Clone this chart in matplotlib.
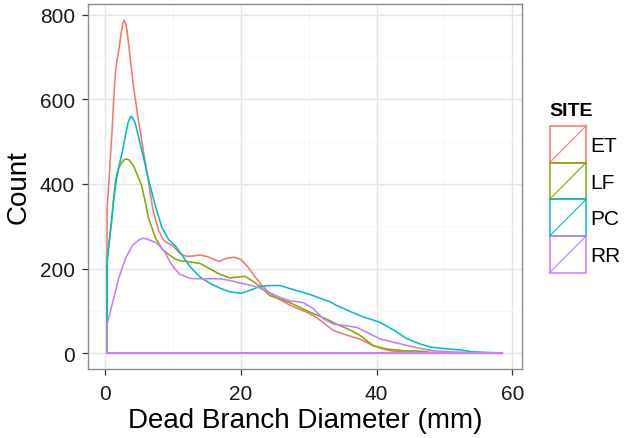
import matplotlib
matplotlib.use("Agg")
import matplotlib.pyplot as plt
from matplotlib.patches import Rectangle
from matplotlib.lines import Line2D

plt.rcParams['font.family'] = ['Liberation Sans', 'DejaVu Sans']

# ---------------- data ----------------
sites = ["ET", "LF", "PC", "RR"]
colors = ["#F8766D", "#7CAE00", "#00BFC4", "#C77CFF"]

et_x = [0.3, 0.45, 0.6, 0.8, 1.0, 1.25, 1.5, 1.75, 2.0, 2.2, 2.4, 2.6, 2.8, 3.0, 3.2, 3.45,
        3.8, 4.2, 4.9, 5.6, 6.4, 7.1, 7.9, 8.6, 9.3,
        10.0, 11.0, 12.0, 13.0, 14.0, 15.0, 16.0, 16.8, 17.8, 19.0, 20.0, 21.0, 22.0, 23.0,
        24.0, 25.0, 26.0, 27.2, 28.5, 29.7, 31.0, 32.2, 33.6, 35.6, 37.6, 39.5, 41.0, 42.0,
        44.0, 46.0, 48.0, 52.0, 58.5]
et_y = [340, 375, 412, 465, 514, 590, 656, 692, 712, 735, 758, 777, 787, 782, 766, 735,
        685, 630, 553, 483, 405, 336, 290, 268, 260,
        254, 236, 229, 230, 232, 229, 222, 217, 224, 227, 222, 205, 183, 162,
        146, 133, 125, 114, 105, 97, 86, 72, 54, 43, 33, 18, 10, 6,
        3, 2, 1, 0.5, 0]

lf_x = [0.3, 0.7, 1.0, 1.25, 1.5, 1.75, 2.0, 2.5, 2.9, 3.2, 3.6, 4.2, 4.9, 5.4, 6.0, 6.4, 7.4,
        8.4, 9.6, 10.3, 11.0, 12.5, 14.0, 15.5, 16.9, 18.4, 19.6, 20.6, 21.6, 22.8, 24.3,
        25.5, 27.2, 30.2, 32.2, 34.1, 36.1, 37.6, 39.5, 41.5, 44.0, 46.5, 48.0, 52.0, 58.5]
lf_y = [222, 275, 315, 362, 400, 423, 437, 452, 458, 459, 456, 443, 416, 396, 352, 320, 274,
        246, 231, 223, 219, 216, 212, 199, 187, 178, 180, 182, 172, 158, 136,
        130, 120, 97, 84, 69, 55, 42, 18, 10, 6, 5, 2, 0.5, 0]

pc_x = [0.3, 0.7, 1.0, 1.3, 1.7, 2.1, 2.5, 3.0, 3.4, 3.8, 4.1, 4.4, 4.9, 5.6, 6.4, 7.4, 8.4,
        9.4, 10.3, 11.0, 12.5, 14.0, 15.5, 16.9, 18.4, 20.1, 21.4, 22.8, 24.3, 25.8, 27.2,
        28.5, 30.2, 32.2, 33.1, 34.1, 36.1, 38.0, 39.0, 40.5, 42.5, 44.4, 46.4, 47.9, 49.3,
        52.3, 53.8, 56.0, 58.5]
pc_y = [210, 275, 320, 365, 412, 445, 472, 514, 545, 560, 556, 546, 514, 467, 412, 349, 296,
        268, 255, 240, 205, 180, 165, 154, 145, 142, 149, 158, 160, 160, 153,
        147, 139, 127, 122, 113, 99, 86, 81, 73, 55, 35, 22, 15, 12,
        8, 4, 2, 1]

rr_x = [0.3, 1.0, 2.0, 3.0, 4.0, 5.0, 5.65, 6.5, 7.4, 8.2, 8.84, 9.6, 10.3, 11.0, 12.5, 14.0,
        15.5, 16.9, 18.4, 19.9, 21.4, 22.8, 24.3, 25.8, 27.2, 29.2, 30.7, 32.2, 33.6, 35.6,
        37.1, 38.5, 40.5, 42.5, 44.9, 46.9, 48.4, 50.3, 54.0, 58.5]
rr_y = [69, 112, 176, 223, 254, 268, 272, 268, 262, 252, 239, 215, 199, 187, 177, 176,
        176, 176, 172, 166, 161, 154, 143, 132, 124, 120, 105, 81, 69, 65,
        61, 50, 34, 26, 17, 10, 6, 4, 1, 0]

series_x = [et_x, lf_x, pc_x, rr_x]
series_y = [et_y, lf_y, pc_y, rr_y]

x_ticks = [0, 20, 40, 60]
y_ticks = [0, 200, 400, 600, 800]
x_label = "Dead Branch Diameter (mm)"
y_label = "Count"
legend_title = "SITE"

# ---------------- figure ----------------
W, H = 624, 439
fig = plt.figure(figsize=(W / 100, H / 100), dpi=100)
fig.patch.set_facecolor("white")

L, R, T, B = 88.3, 521.7, 5.0, 370.0
ax = fig.add_axes([L / W, 1 - B / H, (R - L) / W, (B - T) / H])
ax.set_xlim(-2.46, 61.37)
ax.set_ylim(-37.1, 825.2)

# grid (theme_bw style)
ax.set_xticks(x_ticks)
ax.set_yticks(y_ticks)
ax.set_xticks([10, 30, 50], minor=True)
ax.set_yticks([100, 300, 500, 700], minor=True)
ax.grid(True, which="major", color="#E5E5E5", linewidth=1.0)
ax.grid(True, which="minor", color="#F7F7F7", linewidth=0.7)
ax.set_axisbelow(True)
ax.tick_params(which="minor", length=0)
ax.tick_params(which="major", direction="out", length=4.0, width=0.9, color="#333333",
               labelsize=15, labelcolor="#1a1a1a")
ax.tick_params(axis="x", pad=6.5)
ax.tick_params(axis="y", pad=5.5)
for s in ax.spines.values():
    s.set_color("#8C8C8C")
    s.set_linewidth(1.0)

# density outlines (polygon outlines as geom_density draws them):
# vertical edge + curve, then the baseline edge drawn pixel-snapped
for xs, ys, c in zip(series_x, series_y, colors):
    ax.plot([xs[0]] + list(xs), [0] + list(ys), color=c, linewidth=1.15,
            solid_joinstyle="round")
    ax.plot([xs[0], xs[-1]], [0, 0], color=c, linewidth=1.45, snap=True,
            solid_capstyle="butt")

ax.set_xlabel(x_label, fontsize=20, labelpad=3, color="black")
ax.set_ylabel(y_label, fontsize=20, labelpad=6, color="black")

# ---------------- legend (ggplot-like keys) ----------------
def fx(p):
    return p / W

def fy(p):
    return 1 - p / H

fig.text(fx(549), fy(111), legend_title, fontsize=14, fontweight="bold",
         ha="left", va="center", color="black")
key_l, key_r, key_top, key_h = 549.5, 586.0, 127.0, 36.7
for i, (lab, c) in enumerate(zip(sites, colors)):
    y0 = key_top + i * key_h
    fig.patches.append(Rectangle((fx(key_l), fy(y0 + key_h)), fx(key_r) - fx(key_l),
                                 fy(y0) - fy(y0 + key_h), transform=fig.transFigure,
                                 facecolor="none", edgecolor=c, linewidth=1.1))
    fig.lines.append(Line2D([fx(key_l), fx(key_r)], [fy(y0 + key_h), fy(y0)],
                            transform=fig.transFigure, color=c, linewidth=0.8))
    fig.text(fx(590), fy(y0 + key_h / 2 + 1), lab, fontsize=15, ha="left", va="center",
             color="black")

fig.savefig("out.png", dpi=100)
